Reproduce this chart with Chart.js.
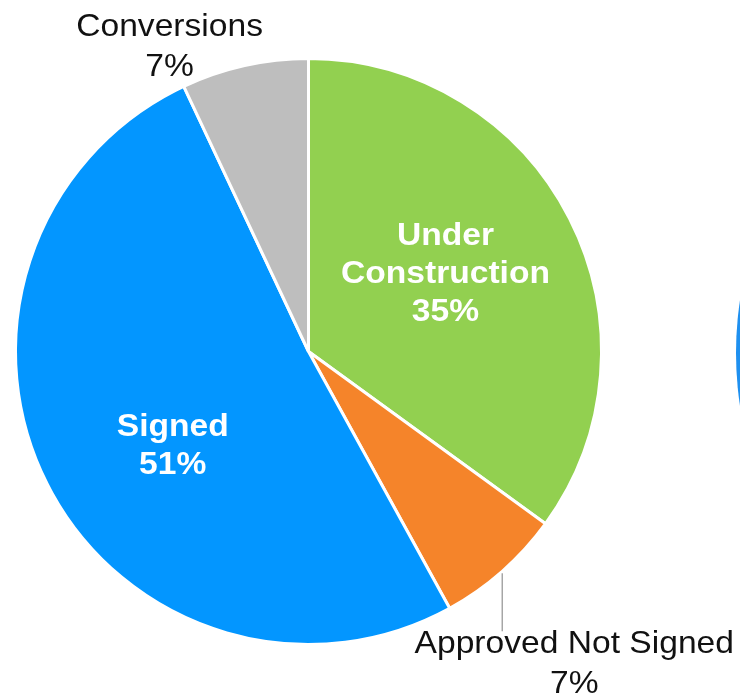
<!DOCTYPE html>
<html>
<head>
<meta charset="utf-8">
<title>Project pipeline by status</title>
<script src="https://cdn.jsdelivr.net/npm/chart.js@4.4.1/dist/chart.umd.min.js"></script>
<style>
  html, body { margin: 0; padding: 0; background: #ffffff; }
  #wrap { width: 740px; height: 697px; position: relative; }
</style>
</head>
<body>
<div id="wrap"><canvas id="pie" width="740" height="697"></canvas></div>
<script>
// Pipeline share by status (percent of total)
const categories = ['Under Construction', 'Approved Not Signed', 'Signed', 'Conversions'];
const shares = [35, 7, 51, 7];
const sliceColors = ['#92D050', '#F5842A', '#0396FF', '#BEBEBE'];

// How each slice label is placed: inside the slice or outside with offsets
const labelStyles = [
  { inside: true,  wrap: true,  frac: 0.54, dx: -4,  dy: -8 },
  { inside: false, wrap: false, frac: 1.0,  dx: 72,  dy: 90, leader: 60 },
  { inside: true,  wrap: false, frac: 0.566, dx: 12, dy: 17 },
  { inside: false, wrap: false, frac: 1.0,  dx: -75, dy: -21 }
];

const FONT_FAMILY = '"Liberation Sans", Arial, Helvetica, sans-serif';
const FONT_SIZE = 32;
const TEXT_STRETCH = 1.05; // slightly wide lettering

const sliceLabels = {
  id: 'sliceLabels',
  afterDatasetsDraw(chart) {
    const ctx = chart.ctx;
    const meta = chart.getDatasetMeta(0);
    meta.data.forEach((arc, i) => {
      const st = labelStyles[i];
      const p = arc.getProps(['x', 'y', 'startAngle', 'endAngle', 'outerRadius'], true);
      const mid = (p.startAngle + p.endAngle) / 2;
      const ax = p.x + Math.cos(mid) * p.outerRadius * st.frac;
      const ay = p.y + Math.sin(mid) * p.outerRadius * st.frac;
      const name = categories[i];
      const lines = (st.wrap ? name.split(' ') : [name]).concat([shares[i] + '%']);
      const lineH = st.inside ? 38 : 40;
      const capH = FONT_SIZE * 0.716;
      const cx = ax + st.dx;
      const cy = ay + st.dy;

      ctx.save();
      if (st.leader) {
        ctx.strokeStyle = '#A6A6A6';
        ctx.lineWidth = 1.5;
        ctx.beginPath();
        ctx.moveTo(ax, ay + 2);
        ctx.lineTo(ax, ay + st.leader);
        ctx.stroke();
      }
      ctx.font = (st.inside ? 'bold ' : '') + FONT_SIZE + 'px ' + FONT_FAMILY;
      ctx.fillStyle = st.inside ? '#FFFFFF' : '#111111';
      ctx.textAlign = 'center';
      ctx.textBaseline = 'alphabetic';
      lines.forEach((ln, k) => {
        const base = cy + (k - (lines.length - 1) / 2) * lineH + capH / 2;
        ctx.save();
        ctx.translate(cx, base);
        ctx.scale(TEXT_STRETCH, 1);
        ctx.fillText(ln, 0, 0);
        ctx.restore();
      });
      ctx.restore();
    });
  }
};

// Edge of the neighbouring panel's ring, cut by the right border
const neighbourEdge = {
  id: 'neighbourEdge',
  afterDraw(chart) {
    const ctx = chart.ctx;
    const R = 351;
    ctx.save();
    ctx.fillStyle = '#1E90F0';
    ctx.beginPath();
    ctx.arc(chart.width - 4 + R, 353, R, 0, Math.PI * 2);
    ctx.fill();
    ctx.restore();
  }
};

new Chart(document.getElementById('pie'), {
  type: 'pie',
  data: {
    labels: categories,
    datasets: [{
      data: shares,
      backgroundColor: sliceColors,
      borderColor: '#FFFFFF',
      borderWidth: 3
    }]
  },
  options: {
    responsive: false,
    devicePixelRatio: 1,
    animation: false,
    layout: { padding: { left: 14, right: 137, top: 57, bottom: 51 } },
    plugins: {
      legend: { display: false },
      tooltip: { enabled: false }
    }
  },
  plugins: [sliceLabels, neighbourEdge]
});
</script>
</body>
</html>
